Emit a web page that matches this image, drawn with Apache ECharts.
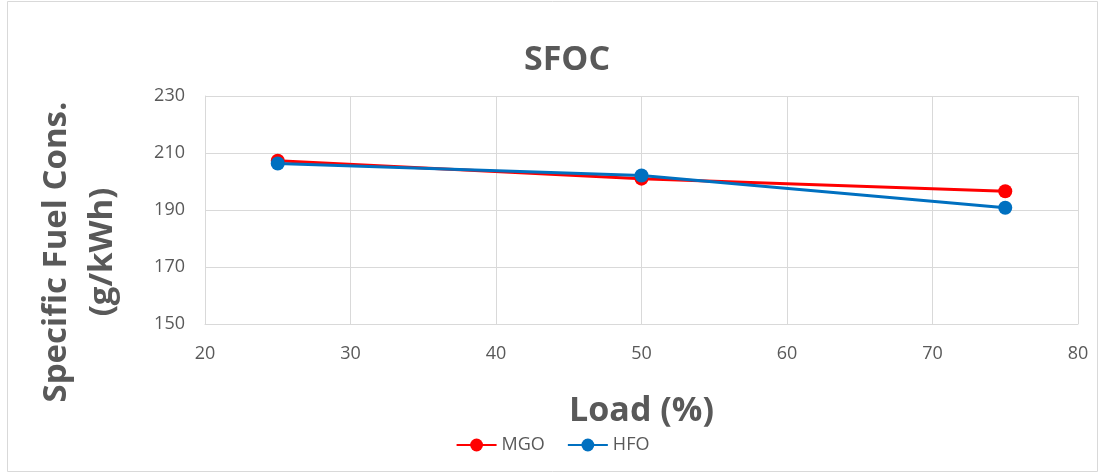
<!DOCTYPE html>
<html>
<head>
<meta charset="utf-8">
<style>
  html, body { margin: 0; padding: 0; background: #fff; }
  #chart { width: 1105px; height: 474px; }
</style>
<script src="https://cdn.jsdelivr.net/npm/echarts@6/dist/echarts.min.js"></script>
</head>
<body>
<div id="chart"></div>
<script>
// Engine load (%) and specific fuel oil consumption (g/kWh)
const loads = [25, 50, 75];
const mgoValues = [207.3, 201.0, 196.6];
const hfoValues = [206.3, 202.1, 190.8];
const seriesNames = ['MGO', 'HFO'];

const grey = '#595959';
const gridGrey = '#d9d9d9';
const font = '"Open Sans", "Liberation Sans", sans-serif';

const chart = echarts.init(document.getElementById('chart'));

function lineSeries(name, values, color) {
  return {
    name: name,
    type: 'line',
    data: loads.map((x, i) => [x, values[i]]),
    symbol: 'circle',
    symbolSize: 14,
    lineStyle: { color: color, width: 3 },
    itemStyle: { color: color },
    animation: false
  };
}

chart.setOption({
  backgroundColor: '#fff',
  textStyle: { fontFamily: font },
  graphic: [{
    type: 'rect',
    shape: { x: 7.5, y: 1.5, width: 1090, height: 470 },
    style: { fill: 'none', stroke: '#d9d9d9', lineWidth: 1 },
    silent: true
  }, {
    type: 'text',
    x: 80, y: 252,
    rotation: Math.PI / 2,
    style: {
      x: 0, y: 0,
      text: 'Specific Fuel Cons.\n(g/kWh)',
      fill: grey,
      font: 'bold 33px ' + font,
      align: 'center',
      verticalAlign: 'middle',
      lineHeight: 46
    }
  }],
  title: {
    text: 'SFOC',
    left: 562, top: 38,
    textAlign: 'center',
    textStyle: { color: grey, fontSize: 34, fontWeight: 'bold', fontFamily: font }
  },
  legend: {
    data: seriesNames,
    left: 'center',
    top: 431,
    itemWidth: 40,
    itemHeight: 16,
    itemGap: 22,
    textStyle: { color: grey, fontSize: 18, fontFamily: font }
  },
  grid: { left: 205, right: 27, top: 96, bottom: 150, containLabel: false },
  xAxis: {
    type: 'value',
    min: 20, max: 80, interval: 10,
    name: 'Load (%)',
    nameLocation: 'middle',
    nameGap: 70,
    nameTextStyle: { color: grey, fontSize: 34, fontWeight: 'bold', fontFamily: font },
    axisLine: { show: true, lineStyle: { color: gridGrey, width: 1 } },
    axisTick: { show: false },
    splitLine: { show: true, lineStyle: { color: gridGrey, width: 1 } },
    axisLabel: { color: grey, fontSize: 18, margin: 21, fontFamily: font }
  },
  yAxis: {
    type: 'value',
    min: 150, max: 230, interval: 20,
    axisLine: { show: true, lineStyle: { color: gridGrey, width: 1 } },
    axisTick: { show: false },
    splitLine: { show: true, lineStyle: { color: gridGrey, width: 1 } },
    axisLabel: { color: grey, fontSize: 18, margin: 20, fontFamily: font }
  },
  series: [
    lineSeries(seriesNames[0], mgoValues, '#ff0000'),
    lineSeries(seriesNames[1], hfoValues, '#0070c0')
  ]
});
</script>
</body>
</html>
